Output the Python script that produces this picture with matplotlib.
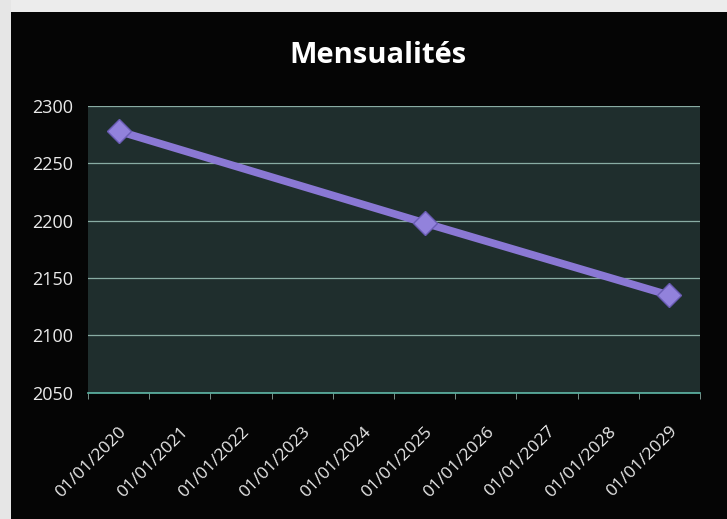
import matplotlib
matplotlib.use("Agg")
import matplotlib.pyplot as plt
import matplotlib.transforms as mtransforms
from matplotlib.patches import Rectangle
import numpy as np

categories = ["01/01/2020", "01/01/2021", "01/01/2022", "01/01/2023", "01/01/2024",
              "01/01/2025", "01/01/2026", "01/01/2027", "01/01/2028", "01/01/2029"]
point_dates = ["01/01/2020", "01/01/2025", "01/01/2029"]
point_values = [2278, 2198, 2135]
yticks = [2050, 2100, 2150, 2200, 2250, 2300]

plt.rcParams['font.family'] = ['Open Sans', 'DejaVu Sans']

fig = plt.figure(figsize=(7.27, 5.19), dpi=100, facecolor='#050505')
# light screen-edge strips seen in the photo
fig.patches.append(Rectangle((0, 0.977), 1, 0.023, transform=fig.transFigure,
                             facecolor='#ececec', edgecolor='none', zorder=0))
fig.patches.append(Rectangle((0, 0), 0.015, 1, transform=fig.transFigure,
                             facecolor='#e6e6e6', edgecolor='none', zorder=0))

ax = fig.add_axes([0.121, 0.243, 0.842, 0.553])
ax.set_facecolor('#1f2e2d')

xpos = [categories.index(d) for d in point_dates]
ax.plot(xpos, point_values, color='#8a78d4', lw=5.5, solid_capstyle='round', zorder=3)
ax.plot(xpos, point_values, linestyle='none', marker='D', markersize=12,
        markerfacecolor='#9282dc', markeredgecolor='#6a5cb4', markeredgewidth=1, zorder=4)

ax.set_xlim(-0.5, len(categories) - 0.5)
ax.set_ylim(yticks[0], yticks[-1])
ax.set_yticks(yticks)
ax.set_yticklabels([str(v) for v in yticks], color='#eaeaea', fontsize=13)
ax.set_xticks(range(len(categories)))
ax.set_xticklabels(categories, rotation=45, ha='right', rotation_mode='anchor',
                   color='#eaeaea', fontsize=12.5)
offset = mtransforms.ScaledTranslation(2 / 100, 0, fig.dpi_scale_trans)
for lab in ax.get_xticklabels():
    lab.set_transform(lab.get_transform() + offset)
ax.set_xticks(np.arange(-0.5, len(categories), 1), minor=True)
ax.tick_params(axis='x', which='major', length=0, pad=22)
ax.tick_params(axis='x', which='minor', length=4, color='#8aa8a0', direction='out')
ax.tick_params(axis='y', length=0, pad=11)

ax.grid(axis='y', color='#a4ccc2', linewidth=0.9, alpha=0.8)
ax.set_axisbelow(True)
for s in ['top', 'right', 'left']:
    ax.spines[s].set_visible(False)
ax.spines['bottom'].set_color('#5fb8a8')
ax.spines['bottom'].set_linewidth(1.2)

fig.text(0.52, 0.893, "Mensualités", ha='center', va='center', color='white',
         fontsize=21, fontweight='bold')

fig.savefig("out.png", dpi=100, facecolor=fig.get_facecolor())
